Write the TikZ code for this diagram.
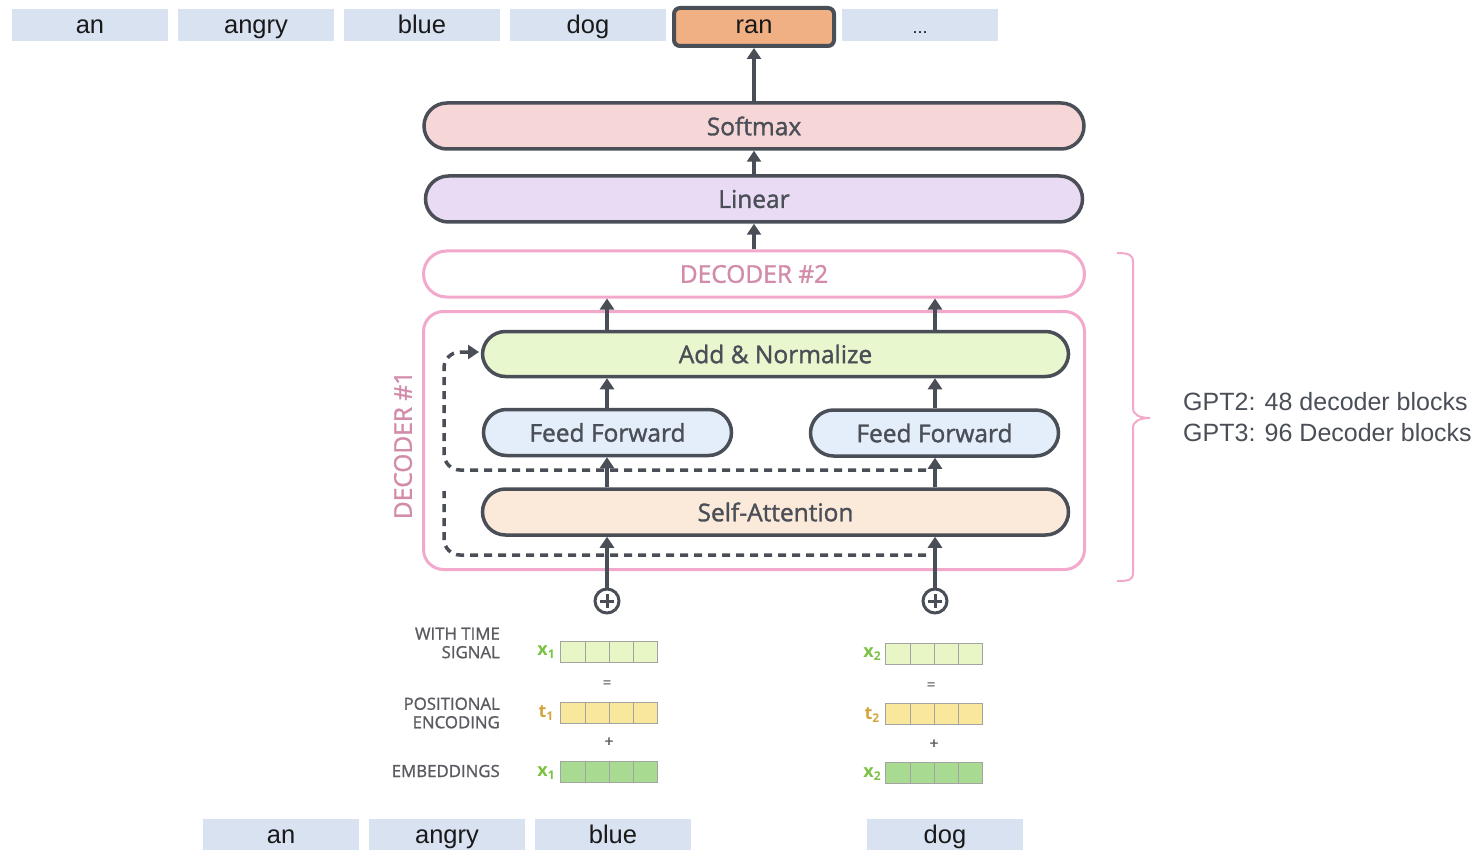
\documentclass[tikz,border=0pt]{standalone}
\usepackage{fontspec}
\setmainfont{Open Sans}
\newfontfamily\tokfont{Liberation Sans}
\newfontfamily\boxfont[FakeBold=1.4]{Open Sans}
\newfontfamily\capfont[FakeBold=1.2]{Open Sans}
\usetikzlibrary{arrows.meta}

\definecolor{ink}{HTML}{4A4E57}
\definecolor{tokblue}{HTML}{D9E2F1}
\definecolor{ranfill}{HTML}{F0B083}
\definecolor{softfill}{HTML}{F6D6D6}
\definecolor{linfill}{HTML}{E9DBF3}
\definecolor{decpink}{HTML}{F2A9CB}
\definecolor{dectext}{HTML}{D28CAA}
\definecolor{addfill}{HTML}{E9F7CF}
\definecolor{fffill}{HTML}{E3EEFA}
\definecolor{safill}{HTML}{FBE9DA}
\definecolor{timefill}{HTML}{E8F5C4}
\definecolor{posfill}{HTML}{F9E89C}
\definecolor{embfill}{HTML}{A9DA92}
\definecolor{cellline}{HTML}{A3A3A3}
\definecolor{xgreen}{HTML}{7CC242}
\definecolor{tgold}{HTML}{D4A53A}
\definecolor{capgray}{HTML}{5A5B61}

\tikzset{
  token/.style={fill=tokblue, minimum width=156pt, minimum height=32pt, inner sep=0pt,
    text height=20pt, text depth=2pt,
    font=\tokfont\fontsize{25.5}{25.5}\selectfont, text=black!90},
  layer/.style={draw=ink, line width=3.5pt, rounded corners=23pt, minimum height=46pt,
    inner sep=0pt, text=ink, font=\boxfont\fontsize{24.5}{24.5}\selectfont},
  decbox/.style={draw=decpink, line width=3pt, fill=white},
  flow/.style={draw=ink, line width=3.5pt, -{Triangle[width=14pt,length=11pt]}},
  skip/.style={draw=ink, line width=3.5pt, dash pattern=on 8pt off 6pt, rounded corners=16pt},
  cell/.style={draw=cellline, line width=1pt, minimum width=24.25pt, minimum height=21pt, inner sep=0pt},
  vlab/.style={font=\bfseries\fontsize{18}{18}\selectfont, inner sep=0pt},
  caplab/.style={font=\capfont\fontsize{16.8}{18.5}\selectfont, text=capgray, align=right, anchor=east, inner sep=0pt},
  op/.style={font=\capfont\fontsize{15}{15}\selectfont, text=capgray, inner sep=0pt},
  plus/.style={circle, draw=ink, line width=3pt, minimum size=24pt, inner sep=0pt}
}

\newcommand{\sub}[2]{#1\raisebox{-2.5pt}{\fontsize{12}{12}\selectfont #2}}

\begin{document}
\begin{tikzpicture}[x=1pt,y=-1pt]
\useasboundingbox (0,0) rectangle (1477,850);

% output tokens
\node[token] (o1) at (90,25) {an};
\node[token] (o2) at (256,25) {angry};
\node[token] (o3) at (422,25) {blue};
\node[token] (o4) at (588,25) {dog};
\node[token, font=\tokfont\fontsize{18}{18}\selectfont] (o6) at (920,25) {...};
\node[token, fill=ranfill, draw=ink, line width=4pt, rounded corners=6pt,
      minimum width=160pt, minimum height=38pt, text height=18pt, text depth=4pt] (ran) at (754,27) {ran};

% output head
\node[layer, fill=softfill, minimum width=660pt] (softmax) at (754,126) {Softmax};
\node[layer, fill=linfill, minimum width=657pt] (linear) at (754,199) {Linear};

% decoder stack
\node[decbox, rounded corners=23pt, minimum width=661pt, minimum height=46pt, inner sep=0pt,
      text=dectext, font=\boxfont\fontsize{24.5}{24.5}\selectfont] (dec2) at (754,274) {DECODER \#2};
\node[decbox, rounded corners=20pt, minimum width=661pt, minimum height=258pt, inner sep=0pt] (dec1) at (754,440.5) {};
\node[text=dectext, font=\boxfont\fontsize{24.5}{24.5}\selectfont, rotate=90, inner sep=0pt] (dec1lab) at (403,445) {DECODER \#1};

\node[layer, fill=addfill, minimum width=586pt, minimum height=45pt] (addnorm) at (775.5,354) {Add \& Normalize};
\node[layer, fill=fffill, minimum width=248pt] (ffl) at (607.5,432.5) {Feed Forward};
\node[layer, fill=fffill, minimum width=248pt] (ffr) at (934.5,433) {Feed Forward};
\node[layer, fill=safill, minimum width=586pt] (selfatt) at (775.5,512) {Self-Attention};

% positional sum
\node[plus] (p1) at (607,601) {};
\node[plus] (p2) at (935,601) {};
\foreach \p in {p1,p2}{
  \draw[ink, line width=3pt] ([xshift=-7pt]\p.center) -- ([xshift=7pt]\p.center);
  \draw[ink, line width=3pt] ([yshift=-7pt]\p.center) -- ([yshift=7pt]\p.center);
}

% residual paths
\coordinate (r1a) at (926,555);
\coordinate (r1b) at (444,555);
\coordinate (r1c) at (444,491);
\draw[skip] (r1a) -- (r1b) -- (r1c);
\coordinate (r2a) at (926,470);
\coordinate (r2b) at (444,470);
\coordinate (r2c) at (444,352);
\coordinate (r2d) at (479,352);
\draw[skip, -{Triangle[width=14pt,length=11pt]}] (r2a) -- (r2b) -- (r2c) -- (r2d);

% main flow
\draw[flow] (p1.north) -- (selfatt.south -| p1);
\draw[flow] (p2.north) -- (selfatt.south -| p2);
\draw[flow] (selfatt.north -| p1) -- (ffl.south -| p1);
\draw[flow] (selfatt.north -| p2) -- (ffr.south -| p2);
\draw[flow] (ffl.north -| p1) -- (addnorm.south -| p1);
\draw[flow] (ffr.north -| p2) -- (addnorm.south -| p2);
\draw[flow] (addnorm.north -| p1) -- (dec2.south -| p1);
\draw[flow] (addnorm.north -| p2) -- (dec2.south -| p2);
\draw[flow] (dec2.north) -- (linear.south);
\draw[flow] (linear.north) -- (softmax.south);
\draw[flow] (softmax.north) -- (ran.south);

% embedding vectors
\foreach \i in {0,1,2,3}{
  \node[cell, fill=timefill] (ta\i) at (573.1+24.25*\i,651.5) {};
  \node[cell, fill=posfill]  (pa\i) at (573.1+24.25*\i,713) {};
  \node[cell, fill=embfill]  (ea\i) at (573.1+24.25*\i,771.5) {};
  \node[cell, fill=timefill] (tb\i) at (898.1+24.25*\i,653.5) {};
  \node[cell, fill=posfill]  (pb\i) at (898.1+24.25*\i,714) {};
  \node[cell, fill=embfill]  (eb\i) at (898.1+24.25*\i,772.5) {};
}
\node[vlab, text=xgreen] (lxa1) at (546,652) {\sub{x}{1}};
\node[vlab, text=tgold]  (lta)  at (546,713) {\sub{t}{1}};
\node[vlab, text=xgreen] (lxa2) at (546,773) {\sub{x}{1}};
\node[vlab, text=xgreen] (lxb1) at (872,654) {\sub{x}{2}};
\node[vlab, text=tgold]  (ltb)  at (872,715) {\sub{t}{2}};
\node[vlab, text=xgreen] (lxb2) at (872,774) {\sub{x}{2}};

\node[op] (eqa) at (607,684) {=};
\node[op] (pla) at (609,742) {+};
\node[op] (eqb) at (931,686) {=};
\node[op] (plb) at (934,744) {+};

\node[caplab] (c1) at (500,643) {WITH TIME\\SIGNAL};
\node[caplab] (c2) at (500,713) {POSITIONAL\\ENCODING};
\node[caplab] (c3) at (500,771) {EMBEDDINGS};

% input tokens
\node[token] (i1) at (281,834.5) {an};
\node[token] (i2) at (447,834.5) {angry};
\node[token] (i3) at (613,834.5) {blue};
\node[token] (i4) at (945,834.5) {dog};

% stack brace and note
\draw[decpink, line width=2pt] (1117,253) .. controls (1129,253) and (1133,255) .. (1133,262)
  -- (1133,408) .. controls (1133,415) and (1140,418) .. (1150,418)
  .. controls (1140,418) and (1133,421) .. (1133,428)
  -- (1133,573) .. controls (1133,580) and (1129,581) .. (1117,581);
\node[font=\tokfont\fontsize{25}{31}\selectfont, text=ink, align=left, anchor=west, inner sep=0pt]
  (note) at (1183,417) {GPT2: 48 decoder blocks\\GPT3: 96 Decoder blocks};
\end{tikzpicture}
\end{document}
